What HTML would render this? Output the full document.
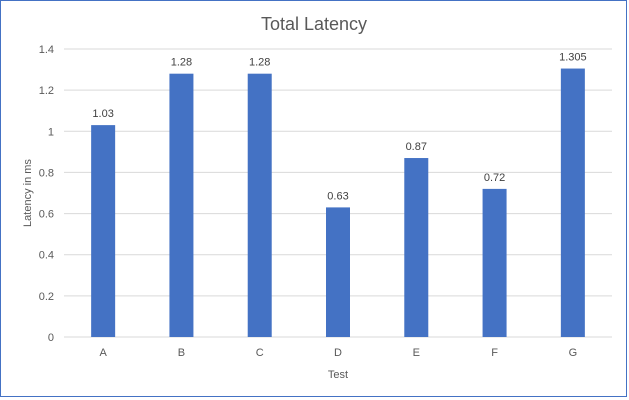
<!DOCTYPE html>
<html><head><meta charset="utf-8"><style>
body{margin:0;background:#fff;font-family:"Liberation Sans",sans-serif;}
svg{display:block}
</style></head><body>
<svg width="629" height="400">
<rect x="0.5" y="0.5" width="626" height="396" fill="#fff" stroke="#4472c4"/>
<text x="314" y="30" text-anchor="middle" font-size="18" fill="#595959">Total Latency</text>
<g id="grid"></g><g id="bars"></g>
<text transform="translate(31,193) rotate(-90)" text-anchor="middle" font-size="11" fill="#595959">Latency in ms</text>
<text x="338" y="378" text-anchor="middle" font-size="11" fill="#595959">Test</text>
</svg>
<script>
const categories=["A","B","C","D","E","F","G"];
const values=[1.03,1.28,1.28,0.63,0.87,0.72,1.305];
const valueLabels=["1.03","1.28","1.28","0.63","0.87","0.72","1.305"];
const yTicks=[0,0.2,0.4,0.6,0.8,1,1.2,1.4];
const L=64,R=612,T=49,B=337,yMax=1.4;
const y=v=>B-(v/yMax)*(B-T);
const bw=(R-L)/categories.length;
const x=i=>L+bw*(i+0.5);
const NS="http://www.w3.org/2000/svg";
const g=document.getElementById("grid"),bg=document.getElementById("bars");
function mk(tag,a,p){const e=document.createElementNS(NS,tag);for(const k in a)e.setAttribute(k,a[k]);p.appendChild(e);return e;}
yTicks.forEach(t=>{
 const l=mk("line",{x1:L,x2:R,y1:y(t),y2:y(t),stroke:"#d9d9d9","stroke-width":1},g);
 
 
 const tx=mk("text",{x:54,y:y(t)+4,"text-anchor":"end","font-size":11,fill:"#595959"},g);
 tx.textContent=String(t);
 
 
});
categories.forEach((c,i)=>{
 const r=mk("rect",{x:x(i)-12,y:y(values[i]),width:24,height:B-y(values[i]),fill:"#4472c4"},bg);
 
 
 const vl=mk("text",{x:x(i),y:y(values[i])-8,"text-anchor":"middle","font-size":11,fill:"#404040"},bg);
 vl.textContent=valueLabels[i];
 
 
 const cl=mk("text",{x:x(i),y:356,"text-anchor":"middle","font-size":11,fill:"#595959"},bg);
 cl.textContent=c;
 
 
});
</script>
</body></html>
